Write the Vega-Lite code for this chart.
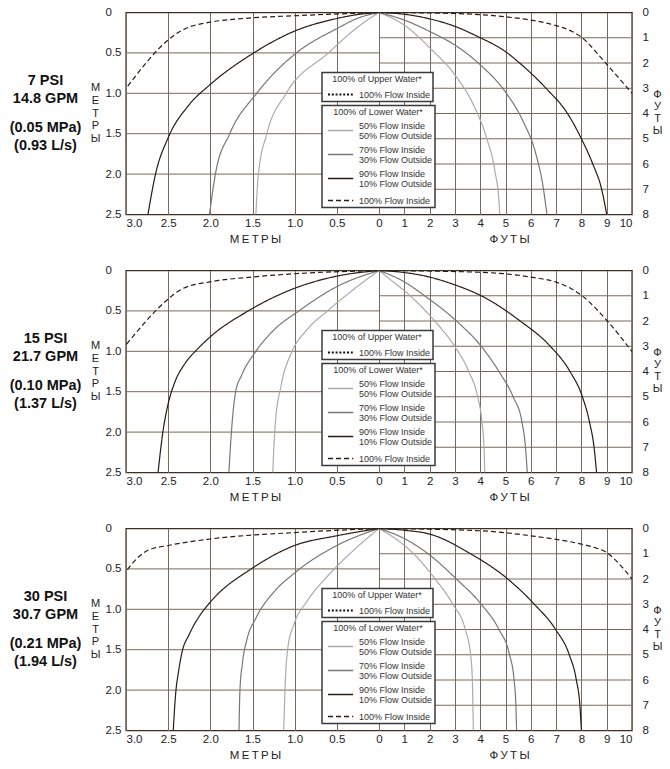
{
  "$schema": "https://vega.github.io/schema/vega-lite/v6.json",
  "padding": {"left": 8, "top": 5.5, "right": 0, "bottom": 0},
  "spacing": 17,
  "datasets": {
    "gL": [{"v": 0.5}, {"v": 1}, {"v": 1.5}, {"v": 2}],
    "gR": [{"v": 1}, {"v": 2}, {"v": 3}, {"v": 4}, {"v": 5}, {"v": 6}, {"v": 7}],
    "p1L": [
      {"s": "50/50", "h": 0, "v": 0}, {"s": "50/50", "h": 0.12, "v": 0.08}, {"s": "50/50", "h": 0.3, "v": 0.22}, {"s": "50/50", "h": 0.6, "v": 0.5}, {"s": "50/50", "h": 1.1, "v": 1.0}, {"s": "50/50", "h": 1.33, "v": 1.5}, {"s": "50/50", "h": 1.43, "v": 2.0}, {"s": "50/50", "h": 1.46, "v": 2.5},
      {"s": "70/30", "h": 0, "v": 0}, {"s": "70/30", "h": 0.25, "v": 0.07}, {"s": "70/30", "h": 0.5, "v": 0.2}, {"s": "70/30", "h": 0.98, "v": 0.5}, {"s": "70/30", "h": 1.45, "v": 1.0}, {"s": "70/30", "h": 1.77, "v": 1.5}, {"s": "70/30", "h": 1.94, "v": 2.0}, {"s": "70/30", "h": 2.01, "v": 2.5},
      {"s": "90/10", "h": 0, "v": 0}, {"s": "90/10", "h": 0.25, "v": 0.025}, {"s": "90/10", "h": 0.5, "v": 0.074}, {"s": "90/10", "h": 1.0, "v": 0.23}, {"s": "90/10", "h": 1.5, "v": 0.51}, {"s": "90/10", "h": 2.0, "v": 0.89}, {"s": "90/10", "h": 2.25, "v": 1.14}, {"s": "90/10", "h": 2.5, "v": 1.55}, {"s": "90/10", "h": 2.65, "v": 2.0}, {"s": "90/10", "h": 2.74, "v": 2.5},
      {"s": "100", "h": 0, "v": 0}, {"s": "100", "h": 1.0, "v": 0.04}, {"s": "100", "h": 1.5, "v": 0.066}, {"s": "100", "h": 2.0, "v": 0.12}, {"s": "100", "h": 2.25, "v": 0.18}, {"s": "100", "h": 2.4, "v": 0.26}, {"s": "100", "h": 2.5, "v": 0.34}, {"s": "100", "h": 3.0, "v": 0.94}
    ],
    "p1R": [
      {"s": "50/50", "h": 0, "v": 0}, {"s": "50/50", "h": 1, "v": 0.5}, {"s": "50/50", "h": 2.03, "v": 1.42}, {"s": "50/50", "h": 3, "v": 2.47}, {"s": "50/50", "h": 3.73, "v": 3.65}, {"s": "50/50", "h": 4.25, "v": 4.96}, {"s": "50/50", "h": 4.58, "v": 6.27}, {"s": "50/50", "h": 4.75, "v": 7.59}, {"s": "50/50", "h": 4.77, "v": 8.0},
      {"s": "70/30", "h": 0, "v": 0}, {"s": "70/30", "h": 1, "v": 0.3}, {"s": "70/30", "h": 2, "v": 0.75}, {"s": "70/30", "h": 3, "v": 1.29}, {"s": "70/30", "h": 4, "v": 2.07}, {"s": "70/30", "h": 5, "v": 3.15}, {"s": "70/30", "h": 5.69, "v": 4.3}, {"s": "70/30", "h": 6.2, "v": 5.6}, {"s": "70/30", "h": 6.47, "v": 6.8}, {"s": "70/30", "h": 6.64, "v": 8.0},
      {"s": "90/10", "h": 0, "v": 0}, {"s": "90/10", "h": 1, "v": 0.07}, {"s": "90/10", "h": 2, "v": 0.25}, {"s": "90/10", "h": 3, "v": 0.55}, {"s": "90/10", "h": 3.9, "v": 0.95}, {"s": "90/10", "h": 5, "v": 1.55}, {"s": "90/10", "h": 5.5, "v": 1.95}, {"s": "90/10", "h": 6.6, "v": 3.0}, {"s": "90/10", "h": 7.45, "v": 4.0}, {"s": "90/10", "h": 8.0, "v": 5.0}, {"s": "90/10", "h": 8.45, "v": 6.0}, {"s": "90/10", "h": 8.8, "v": 7.0}, {"s": "90/10", "h": 9.0, "v": 8.0},
      {"s": "100", "h": 0, "v": 0}, {"s": "100", "h": 3, "v": 0.04}, {"s": "100", "h": 5, "v": 0.17}, {"s": "100", "h": 6, "v": 0.3}, {"s": "100", "h": 7, "v": 0.52}, {"s": "100", "h": 7.65, "v": 0.76}, {"s": "100", "h": 8.0, "v": 0.98}, {"s": "100", "h": 9.0, "v": 2.05}, {"s": "100", "h": 10.0, "v": 3.2}
    ],
    "p2L": [
      {"s": "50/50", "h": 0, "v": 0}, {"s": "50/50", "h": 0.26, "v": 0.2}, {"s": "50/50", "h": 0.61, "v": 0.5}, {"s": "50/50", "h": 0.86, "v": 0.74}, {"s": "50/50", "h": 1.03, "v": 1.0}, {"s": "50/50", "h": 1.16, "v": 1.42}, {"s": "50/50", "h": 1.23, "v": 1.9}, {"s": "50/50", "h": 1.26, "v": 2.5},
      {"s": "70/30", "h": 0, "v": 0}, {"s": "70/30", "h": 0.5, "v": 0.2}, {"s": "70/30", "h": 0.95, "v": 0.5}, {"s": "70/30", "h": 1.25, "v": 0.74}, {"s": "70/30", "h": 1.46, "v": 1.0}, {"s": "70/30", "h": 1.63, "v": 1.3}, {"s": "70/30", "h": 1.7, "v": 1.5}, {"s": "70/30", "h": 1.75, "v": 2.0}, {"s": "70/30", "h": 1.78, "v": 2.5},
      {"s": "90/10", "h": 0, "v": 0}, {"s": "90/10", "h": 0.5, "v": 0.07}, {"s": "90/10", "h": 1.0, "v": 0.22}, {"s": "90/10", "h": 1.55, "v": 0.5}, {"s": "90/10", "h": 2.0, "v": 0.82}, {"s": "90/10", "h": 2.15, "v": 0.97}, {"s": "90/10", "h": 2.3, "v": 1.15}, {"s": "90/10", "h": 2.42, "v": 1.38}, {"s": "90/10", "h": 2.5, "v": 1.65}, {"s": "90/10", "h": 2.56, "v": 1.98}, {"s": "90/10", "h": 2.62, "v": 2.5},
      {"s": "100", "h": 0, "v": 0}, {"s": "100", "h": 1.0, "v": 0.04}, {"s": "100", "h": 1.5, "v": 0.08}, {"s": "100", "h": 2.0, "v": 0.14}, {"s": "100", "h": 2.32, "v": 0.22}, {"s": "100", "h": 2.44, "v": 0.3}, {"s": "100", "h": 2.53, "v": 0.38}, {"s": "100", "h": 3.0, "v": 0.92}
    ],
    "p2R": [
      {"s": "50/50", "h": 0, "v": 0}, {"s": "50/50", "h": 0.5, "v": 0.4}, {"s": "50/50", "h": 1.23, "v": 1.0}, {"s": "50/50", "h": 2.2, "v": 2.0}, {"s": "50/50", "h": 2.99, "v": 3.0}, {"s": "50/50", "h": 3.55, "v": 4.0}, {"s": "50/50", "h": 3.9, "v": 5.0}, {"s": "50/50", "h": 4.07, "v": 6.0}, {"s": "50/50", "h": 4.15, "v": 7.0}, {"s": "50/50", "h": 4.18, "v": 8.0},
      {"s": "70/30", "h": 0, "v": 0}, {"s": "70/30", "h": 1, "v": 0.45}, {"s": "70/30", "h": 1.8, "v": 1.0}, {"s": "70/30", "h": 3.06, "v": 2.0}, {"s": "70/30", "h": 4.04, "v": 3.0}, {"s": "70/30", "h": 4.74, "v": 4.0}, {"s": "70/30", "h": 5.3, "v": 5.0}, {"s": "70/30", "h": 5.65, "v": 6.0}, {"s": "70/30", "h": 5.79, "v": 7.0}, {"s": "70/30", "h": 5.86, "v": 8.0},
      {"s": "90/10", "h": 0, "v": 0}, {"s": "90/10", "h": 1, "v": 0.08}, {"s": "90/10", "h": 2, "v": 0.26}, {"s": "90/10", "h": 3, "v": 0.57}, {"s": "90/10", "h": 4.04, "v": 1.0}, {"s": "90/10", "h": 5.58, "v": 2.0}, {"s": "90/10", "h": 6.77, "v": 3.0}, {"s": "90/10", "h": 7.55, "v": 4.0}, {"s": "90/10", "h": 8.04, "v": 5.0}, {"s": "90/10", "h": 8.32, "v": 6.0}, {"s": "90/10", "h": 8.5, "v": 7.0}, {"s": "90/10", "h": 8.6, "v": 8.0},
      {"s": "100", "h": 0, "v": 0}, {"s": "100", "h": 4, "v": 0.07}, {"s": "100", "h": 6, "v": 0.26}, {"s": "100", "h": 7, "v": 0.46}, {"s": "100", "h": 7.6, "v": 0.72}, {"s": "100", "h": 8.0, "v": 0.98}, {"s": "100", "h": 9.0, "v": 1.97}, {"s": "100", "h": 10, "v": 3.21}
    ],
    "p3L": [
      {"s": "50/50", "h": 0, "v": 0}, {"s": "50/50", "h": 0.26, "v": 0.23}, {"s": "50/50", "h": 0.61, "v": 0.59}, {"s": "50/50", "h": 0.86, "v": 0.91}, {"s": "50/50", "h": 1.01, "v": 1.19}, {"s": "50/50", "h": 1.08, "v": 1.47}, {"s": "50/50", "h": 1.11, "v": 1.87}, {"s": "50/50", "h": 1.13, "v": 2.5},
      {"s": "70/30", "h": 0, "v": 0}, {"s": "70/30", "h": 0.5, "v": 0.21}, {"s": "70/30", "h": 1.0, "v": 0.55}, {"s": "70/30", "h": 1.25, "v": 0.79}, {"s": "70/30", "h": 1.46, "v": 1.11}, {"s": "70/30", "h": 1.57, "v": 1.39}, {"s": "70/30", "h": 1.62, "v": 1.67}, {"s": "70/30", "h": 1.65, "v": 2.03}, {"s": "70/30", "h": 1.66, "v": 2.5},
      {"s": "90/10", "h": 0, "v": 0}, {"s": "90/10", "h": 0.5, "v": 0.09}, {"s": "90/10", "h": 1.0, "v": 0.21}, {"s": "90/10", "h": 1.5, "v": 0.49}, {"s": "90/10", "h": 2.0, "v": 0.91}, {"s": "90/10", "h": 2.12, "v": 1.07}, {"s": "90/10", "h": 2.25, "v": 1.31}, {"s": "90/10", "h": 2.34, "v": 1.55}, {"s": "90/10", "h": 2.38, "v": 1.79}, {"s": "90/10", "h": 2.41, "v": 2.03}, {"s": "90/10", "h": 2.44, "v": 2.5},
      {"s": "100", "h": 0, "v": 0}, {"s": "100", "h": 1.0, "v": 0.05}, {"s": "100", "h": 2.0, "v": 0.13}, {"s": "100", "h": 2.5, "v": 0.21}, {"s": "100", "h": 2.74, "v": 0.27}, {"s": "100", "h": 2.87, "v": 0.37}, {"s": "100", "h": 3.0, "v": 0.53}
    ],
    "p3R": [
      {"s": "50/50", "h": 0, "v": 0}, {"s": "50/50", "h": 0.5, "v": 0.3}, {"s": "50/50", "h": 1.37, "v": 1.0}, {"s": "50/50", "h": 2.22, "v": 2.0}, {"s": "50/50", "h": 2.92, "v": 3.0}, {"s": "50/50", "h": 3.41, "v": 4.0}, {"s": "50/50", "h": 3.62, "v": 5.0}, {"s": "50/50", "h": 3.69, "v": 6.0}, {"s": "50/50", "h": 3.71, "v": 7.0}, {"s": "50/50", "h": 3.73, "v": 8.0},
      {"s": "70/30", "h": 0, "v": 0}, {"s": "70/30", "h": 1, "v": 0.4}, {"s": "70/30", "h": 1.94, "v": 1.0}, {"s": "70/30", "h": 3.06, "v": 2.0}, {"s": "70/30", "h": 4.04, "v": 3.0}, {"s": "70/30", "h": 4.74, "v": 4.0}, {"s": "70/30", "h": 5.16, "v": 5.0}, {"s": "70/30", "h": 5.34, "v": 6.0}, {"s": "70/30", "h": 5.41, "v": 7.0}, {"s": "70/30", "h": 5.44, "v": 8.0},
      {"s": "90/10", "h": 0, "v": 0}, {"s": "90/10", "h": 1, "v": 0.07}, {"s": "90/10", "h": 2, "v": 0.22}, {"s": "90/10", "h": 3.62, "v": 1.0}, {"s": "90/10", "h": 5.09, "v": 2.0}, {"s": "90/10", "h": 6.14, "v": 3.0}, {"s": "90/10", "h": 6.98, "v": 4.0}, {"s": "90/10", "h": 7.52, "v": 5.0}, {"s": "90/10", "h": 7.8, "v": 6.0}, {"s": "90/10", "h": 7.94, "v": 7.0}, {"s": "90/10", "h": 8.0, "v": 8.0},
      {"s": "100", "h": 0, "v": 0}, {"s": "100", "h": 4, "v": 0.09}, {"s": "100", "h": 6, "v": 0.29}, {"s": "100", "h": 8, "v": 0.62}, {"s": "100", "h": 8.5, "v": 0.75}, {"s": "100", "h": 9, "v": 0.95}, {"s": "100", "h": 9.5, "v": 1.41}, {"s": "100", "h": 10, "v": 2.0}
    ]
  },
  "vconcat": [
    {
      "width": 506, "height": 202,
      "layer": [
        {"data": {"name": "gL"}, "mark": {"type": "rule", "color": "#7a6858", "strokeWidth": 1},
         "encoding": {"y": {"field": "v", "type": "quantitative", "scale": {"domain": [0, 2.5], "reverse": true, "nice": false, "zero": false},
                            "axis": {"orient": "left", "labels": false, "ticks": false, "domain": false, "grid": false, "title": ["(0.05 MPa)", "(0.93 L/s)"], "titleAngle": 0, "titleX": -81, "titleY": 108, "titleBaseline": "top", "titleAlign": "center", "titleFontSize": 14.5, "titleFontWeight": "bold", "titleLineHeight": 18, "titleColor": "#111111"}},
                      "x": {"datum": 0, "type": "quantitative", "scale": {"domain": [-3, 3], "reverse": true, "nice": false, "zero": false}, "axis": null},
                      "x2": {"datum": 3}}},
        {"data": {"name": "gR"}, "mark": {"type": "rule", "color": "#7a6858", "strokeWidth": 1},
         "encoding": {"y": {"field": "v", "type": "quantitative", "scale": {"domain": [0, 8], "reverse": true, "nice": false, "zero": false}, "axis": null},
                      "x": {"datum": 0, "type": "quantitative", "scale": {"domain": [-10, 10], "nice": false, "zero": false}, "axis": null},
                      "x2": {"datum": 10}}},
        {"data": {"name": "p1L"}, "mark": {"type": "line", "interpolate": "monotone", "strokeWidth": 1.2, "clip": true},
         "encoding": {
           "x": {"field": "h", "type": "quantitative", "scale": {"domain": [-3, 3], "reverse": true, "nice": false, "zero": false},
                 "axis": {"orient": "bottom", "values": [3, 2.5, 2, 1.5, 1, 0.5], "format": ".1f", "grid": true, "labelFlush": true, "labelPadding": 3, "title": "М\u2009Е\u2009Т\u2009Р\u2009Ы", "titleX": 129, "titleY": 25, "titleBaseline": "middle", "titleAlign": "center"}},
           "y": {"field": "v", "type": "quantitative", "scale": {"domain": [0, 2.5], "reverse": true, "nice": false, "zero": false},
                 "axis": {"orient": "left", "values": [0, 0.5, 1, 1.5, 2, 2.5], "labelExpr": "datum.value == 0 ? '0' : format(datum.value, '.1f')", "labelAlign": "left", "labelPadding": 21, "grid": false, "title": ["М", "Е", "Т", "Р", "Ы"], "titleAngle": 0, "titleX": -31, "titleY": 69, "titleBaseline": "top", "titleAlign": "center", "titleLineHeight": 12.8, "titleFontSize": 11}},
           "color": {"field": "s", "type": "nominal", "scale": {"domain": ["50/50", "70/30", "90/10", "100"], "range": ["#ababab", "#787878", "#2a1c14", "#2a1c14"]},
                     "legend": {"title": "100% of Lower Water*", "orient": "none", "legendX": 196, "legendY": 93, "titlePadding": 7, "labelBaseline": {"expr": "datum.value == '100' ? 'middle' : 'bottom'"}, "labelExpr": "datum.label == '50/50' ? ['50% Flow Inside', '50% Flow Outside'] : datum.label == '70/30' ? ['70% Flow Inside', '30% Flow Outside'] : datum.label == '90/10' ? ['90% Flow Inside', '10% Flow Outside'] : '100% Flow Inside'"}},
           "strokeDash": {"field": "s", "type": "nominal", "scale": {"domain": ["50/50", "70/30", "90/10", "100"], "range": [[1, 0], [1, 0], [1, 0], [5, 3]]},
                     "legend": {"title": "100% of Lower Water*", "orient": "none", "legendX": 196, "legendY": 93, "titlePadding": 7, "labelBaseline": {"expr": "datum.value == '100' ? 'middle' : 'bottom'"}, "labelExpr": "datum.label == '50/50' ? ['50% Flow Inside', '50% Flow Outside'] : datum.label == '70/30' ? ['70% Flow Inside', '30% Flow Outside'] : datum.label == '90/10' ? ['90% Flow Inside', '10% Flow Outside'] : '100% Flow Inside'"}},
           "order": {"field": "v", "type": "quantitative"}
         }},
        {"data": {"name": "p1R"}, "mark": {"type": "line", "interpolate": "monotone", "strokeWidth": 1.2, "clip": true},
         "encoding": {
           "x": {"field": "h", "type": "quantitative", "scale": {"domain": [-10, 10], "nice": false, "zero": false},
                 "axis": {"orient": "bottom", "values": [0, 1, 2, 3, 4, 5, 6, 7, 8, 9, 10], "format": "d", "grid": true, "labelFlush": true, "labelPadding": 3, "title": "Ф\u2009У\u2009Т\u2009Ы", "titleX": 383, "titleY": 25, "titleBaseline": "middle", "titleAlign": "center"}},
           "y": {"field": "v", "type": "quantitative", "scale": {"domain": [0, 8], "reverse": true, "nice": false, "zero": false},
                 "axis": {"orient": "right", "values": [0, 1, 2, 3, 4, 5, 6, 7, 8], "format": "d", "labelPadding": 10, "grid": false, "title": ["Ф", "У", "Т", "Ы"], "titleAngle": 0, "titleX": 25, "titleY": 76, "titleBaseline": "top", "titleAlign": "center", "titleLineHeight": 12, "titleFontSize": 11}},
           "color": {"field": "s", "type": "nominal", "scale": {"domain": ["50/50", "70/30", "90/10", "100"], "range": ["#ababab", "#787878", "#2a1c14", "#2a1c14"]},
                     "legend": {"title": "100% of Lower Water*", "orient": "none", "legendX": 196, "legendY": 93, "titlePadding": 7, "labelBaseline": {"expr": "datum.value == '100' ? 'middle' : 'bottom'"}, "labelExpr": "datum.label == '50/50' ? ['50% Flow Inside', '50% Flow Outside'] : datum.label == '70/30' ? ['70% Flow Inside', '30% Flow Outside'] : datum.label == '90/10' ? ['90% Flow Inside', '10% Flow Outside'] : '100% Flow Inside'"}},
           "strokeDash": {"field": "s", "type": "nominal", "scale": {"domain": ["50/50", "70/30", "90/10", "100"], "range": [[1, 0], [1, 0], [1, 0], [5, 3]]},
                     "legend": {"title": "100% of Lower Water*", "orient": "none", "legendX": 196, "legendY": 93, "titlePadding": 7, "labelBaseline": {"expr": "datum.value == '100' ? 'middle' : 'bottom'"}, "labelExpr": "datum.label == '50/50' ? ['50% Flow Inside', '50% Flow Outside'] : datum.label == '70/30' ? ['70% Flow Inside', '30% Flow Outside'] : datum.label == '90/10' ? ['90% Flow Inside', '10% Flow Outside'] : '100% Flow Inside'"}},
           "order": {"field": "v", "type": "quantitative"}
         }},
        {"data": {"values": []}, "mark": {"type": "line", "color": "#111111"},
         "encoding": {
           "x": {"field": "h", "type": "quantitative", "scale": {"domain": [0, 1]}, "axis": null},
           "y": {"field": "v", "type": "quantitative", "scale": {"domain": [0, 1]},
                 "axis": {"orient": "left", "labels": false, "ticks": false, "domain": false, "grid": false, "title": ["7 PSI", "14.8 GPM"], "titleAngle": 0, "titleX": -81, "titleY": 61, "titleBaseline": "top", "titleAlign": "center", "titleFontSize": 14.5, "titleFontWeight": "bold", "titleLineHeight": 18, "titleColor": "#111111"}},
           "opacity": {"field": "s", "type": "ordinal", "scale": {"domain": ["100% Flow Inside"], "range": [1]},
                       "legend": {"title": "100% of Upper Water*", "orient": "none", "legendX": 196, "legendY": 60, "symbolDash": [2, 1.8], "symbolStrokeColor": "#111111", "symbolStrokeWidth": 2}}
         }}
      ],
      "resolve": {"scale": {"x": "independent", "y": "independent"}, "axis": {"x": "independent", "y": "independent"}}
    },
    {
      "width": 506, "height": 202,
      "layer": [
        {"data": {"name": "gL"}, "mark": {"type": "rule", "color": "#7a6858", "strokeWidth": 1},
         "encoding": {"y": {"field": "v", "type": "quantitative", "scale": {"domain": [0, 2.5], "reverse": true, "nice": false, "zero": false},
                            "axis": {"orient": "left", "labels": false, "ticks": false, "domain": false, "grid": false, "title": ["(0.10 MPa)", "(1.37 L/s)"], "titleAngle": 0, "titleX": -81, "titleY": 108, "titleBaseline": "top", "titleAlign": "center", "titleFontSize": 14.5, "titleFontWeight": "bold", "titleLineHeight": 18, "titleColor": "#111111"}},
                      "x": {"datum": 0, "type": "quantitative", "scale": {"domain": [-3, 3], "reverse": true, "nice": false, "zero": false}, "axis": null},
                      "x2": {"datum": 3}}},
        {"data": {"name": "gR"}, "mark": {"type": "rule", "color": "#7a6858", "strokeWidth": 1},
         "encoding": {"y": {"field": "v", "type": "quantitative", "scale": {"domain": [0, 8], "reverse": true, "nice": false, "zero": false}, "axis": null},
                      "x": {"datum": 0, "type": "quantitative", "scale": {"domain": [-10, 10], "nice": false, "zero": false}, "axis": null},
                      "x2": {"datum": 10}}},
        {"data": {"name": "p2L"}, "mark": {"type": "line", "interpolate": "monotone", "strokeWidth": 1.2, "clip": true},
         "encoding": {
           "x": {"field": "h", "type": "quantitative", "scale": {"domain": [-3, 3], "reverse": true, "nice": false, "zero": false},
                 "axis": {"orient": "bottom", "values": [3, 2.5, 2, 1.5, 1, 0.5], "format": ".1f", "grid": true, "labelFlush": true, "labelPadding": 3, "title": "М\u2009Е\u2009Т\u2009Р\u2009Ы", "titleX": 129, "titleY": 25, "titleBaseline": "middle", "titleAlign": "center"}},
           "y": {"field": "v", "type": "quantitative", "scale": {"domain": [0, 2.5], "reverse": true, "nice": false, "zero": false},
                 "axis": {"orient": "left", "values": [0, 0.5, 1, 1.5, 2, 2.5], "labelExpr": "datum.value == 0 ? '0' : format(datum.value, '.1f')", "labelAlign": "left", "labelPadding": 21, "grid": false, "title": ["М", "Е", "Т", "Р", "Ы"], "titleAngle": 0, "titleX": -31, "titleY": 69, "titleBaseline": "top", "titleAlign": "center", "titleLineHeight": 12.8, "titleFontSize": 11}},
           "color": {"field": "s", "type": "nominal", "scale": {"domain": ["50/50", "70/30", "90/10", "100"], "range": ["#ababab", "#787878", "#2a1c14", "#2a1c14"]},
                     "legend": {"title": "100% of Lower Water*", "orient": "none", "legendX": 196, "legendY": 93, "titlePadding": 7, "labelBaseline": {"expr": "datum.value == '100' ? 'middle' : 'bottom'"}, "labelExpr": "datum.label == '50/50' ? ['50% Flow Inside', '50% Flow Outside'] : datum.label == '70/30' ? ['70% Flow Inside', '30% Flow Outside'] : datum.label == '90/10' ? ['90% Flow Inside', '10% Flow Outside'] : '100% Flow Inside'"}},
           "strokeDash": {"field": "s", "type": "nominal", "scale": {"domain": ["50/50", "70/30", "90/10", "100"], "range": [[1, 0], [1, 0], [1, 0], [5, 3]]},
                     "legend": {"title": "100% of Lower Water*", "orient": "none", "legendX": 196, "legendY": 93, "titlePadding": 7, "labelBaseline": {"expr": "datum.value == '100' ? 'middle' : 'bottom'"}, "labelExpr": "datum.label == '50/50' ? ['50% Flow Inside', '50% Flow Outside'] : datum.label == '70/30' ? ['70% Flow Inside', '30% Flow Outside'] : datum.label == '90/10' ? ['90% Flow Inside', '10% Flow Outside'] : '100% Flow Inside'"}},
           "order": {"field": "v", "type": "quantitative"}
         }},
        {"data": {"name": "p2R"}, "mark": {"type": "line", "interpolate": "monotone", "strokeWidth": 1.2, "clip": true},
         "encoding": {
           "x": {"field": "h", "type": "quantitative", "scale": {"domain": [-10, 10], "nice": false, "zero": false},
                 "axis": {"orient": "bottom", "values": [0, 1, 2, 3, 4, 5, 6, 7, 8, 9, 10], "format": "d", "grid": true, "labelFlush": true, "labelPadding": 3, "title": "Ф\u2009У\u2009Т\u2009Ы", "titleX": 383, "titleY": 25, "titleBaseline": "middle", "titleAlign": "center"}},
           "y": {"field": "v", "type": "quantitative", "scale": {"domain": [0, 8], "reverse": true, "nice": false, "zero": false},
                 "axis": {"orient": "right", "values": [0, 1, 2, 3, 4, 5, 6, 7, 8], "format": "d", "labelPadding": 10, "grid": false, "title": ["Ф", "У", "Т", "Ы"], "titleAngle": 0, "titleX": 25, "titleY": 76, "titleBaseline": "top", "titleAlign": "center", "titleLineHeight": 12, "titleFontSize": 11}},
           "color": {"field": "s", "type": "nominal", "scale": {"domain": ["50/50", "70/30", "90/10", "100"], "range": ["#ababab", "#787878", "#2a1c14", "#2a1c14"]},
                     "legend": {"title": "100% of Lower Water*", "orient": "none", "legendX": 196, "legendY": 93, "titlePadding": 7, "labelBaseline": {"expr": "datum.value == '100' ? 'middle' : 'bottom'"}, "labelExpr": "datum.label == '50/50' ? ['50% Flow Inside', '50% Flow Outside'] : datum.label == '70/30' ? ['70% Flow Inside', '30% Flow Outside'] : datum.label == '90/10' ? ['90% Flow Inside', '10% Flow Outside'] : '100% Flow Inside'"}},
           "strokeDash": {"field": "s", "type": "nominal", "scale": {"domain": ["50/50", "70/30", "90/10", "100"], "range": [[1, 0], [1, 0], [1, 0], [5, 3]]},
                     "legend": {"title": "100% of Lower Water*", "orient": "none", "legendX": 196, "legendY": 93, "titlePadding": 7, "labelBaseline": {"expr": "datum.value == '100' ? 'middle' : 'bottom'"}, "labelExpr": "datum.label == '50/50' ? ['50% Flow Inside', '50% Flow Outside'] : datum.label == '70/30' ? ['70% Flow Inside', '30% Flow Outside'] : datum.label == '90/10' ? ['90% Flow Inside', '10% Flow Outside'] : '100% Flow Inside'"}},
           "order": {"field": "v", "type": "quantitative"}
         }},
        {"data": {"values": []}, "mark": {"type": "line", "color": "#111111"},
         "encoding": {
           "x": {"field": "h", "type": "quantitative", "scale": {"domain": [0, 1]}, "axis": null},
           "y": {"field": "v", "type": "quantitative", "scale": {"domain": [0, 1]},
                 "axis": {"orient": "left", "labels": false, "ticks": false, "domain": false, "grid": false, "title": ["15 PSI", "21.7 GPM"], "titleAngle": 0, "titleX": -81, "titleY": 61, "titleBaseline": "top", "titleAlign": "center", "titleFontSize": 14.5, "titleFontWeight": "bold", "titleLineHeight": 18, "titleColor": "#111111"}},
           "opacity": {"field": "s", "type": "ordinal", "scale": {"domain": ["100% Flow Inside"], "range": [1]},
                       "legend": {"title": "100% of Upper Water*", "orient": "none", "legendX": 196, "legendY": 60, "symbolDash": [2, 1.8], "symbolStrokeColor": "#111111", "symbolStrokeWidth": 2}}
         }}
      ],
      "resolve": {"scale": {"x": "independent", "y": "independent"}, "axis": {"x": "independent", "y": "independent"}}
    },
    {
      "width": 506, "height": 202,
      "layer": [
        {"data": {"name": "gL"}, "mark": {"type": "rule", "color": "#7a6858", "strokeWidth": 1},
         "encoding": {"y": {"field": "v", "type": "quantitative", "scale": {"domain": [0, 2.5], "reverse": true, "nice": false, "zero": false},
                            "axis": {"orient": "left", "labels": false, "ticks": false, "domain": false, "grid": false, "title": ["(0.21 MPa)", "(1.94 L/s)"], "titleAngle": 0, "titleX": -81, "titleY": 108, "titleBaseline": "top", "titleAlign": "center", "titleFontSize": 14.5, "titleFontWeight": "bold", "titleLineHeight": 18, "titleColor": "#111111"}},
                      "x": {"datum": 0, "type": "quantitative", "scale": {"domain": [-3, 3], "reverse": true, "nice": false, "zero": false}, "axis": null},
                      "x2": {"datum": 3}}},
        {"data": {"name": "gR"}, "mark": {"type": "rule", "color": "#7a6858", "strokeWidth": 1},
         "encoding": {"y": {"field": "v", "type": "quantitative", "scale": {"domain": [0, 8], "reverse": true, "nice": false, "zero": false}, "axis": null},
                      "x": {"datum": 0, "type": "quantitative", "scale": {"domain": [-10, 10], "nice": false, "zero": false}, "axis": null},
                      "x2": {"datum": 10}}},
        {"data": {"name": "p3L"}, "mark": {"type": "line", "interpolate": "monotone", "strokeWidth": 1.2, "clip": true},
         "encoding": {
           "x": {"field": "h", "type": "quantitative", "scale": {"domain": [-3, 3], "reverse": true, "nice": false, "zero": false},
                 "axis": {"orient": "bottom", "values": [3, 2.5, 2, 1.5, 1, 0.5], "format": ".1f", "grid": true, "labelFlush": true, "labelPadding": 3, "title": "М\u2009Е\u2009Т\u2009Р\u2009Ы", "titleX": 129, "titleY": 25, "titleBaseline": "middle", "titleAlign": "center"}},
           "y": {"field": "v", "type": "quantitative", "scale": {"domain": [0, 2.5], "reverse": true, "nice": false, "zero": false},
                 "axis": {"orient": "left", "values": [0, 0.5, 1, 1.5, 2, 2.5], "labelExpr": "datum.value == 0 ? '0' : format(datum.value, '.1f')", "labelAlign": "left", "labelPadding": 21, "grid": false, "title": ["М", "Е", "Т", "Р", "Ы"], "titleAngle": 0, "titleX": -31, "titleY": 69, "titleBaseline": "top", "titleAlign": "center", "titleLineHeight": 12.8, "titleFontSize": 11}},
           "color": {"field": "s", "type": "nominal", "scale": {"domain": ["50/50", "70/30", "90/10", "100"], "range": ["#ababab", "#787878", "#2a1c14", "#2a1c14"]},
                     "legend": {"title": "100% of Lower Water*", "orient": "none", "legendX": 196, "legendY": 93, "titlePadding": 7, "labelBaseline": {"expr": "datum.value == '100' ? 'middle' : 'bottom'"}, "labelExpr": "datum.label == '50/50' ? ['50% Flow Inside', '50% Flow Outside'] : datum.label == '70/30' ? ['70% Flow Inside', '30% Flow Outside'] : datum.label == '90/10' ? ['90% Flow Inside', '10% Flow Outside'] : '100% Flow Inside'"}},
           "strokeDash": {"field": "s", "type": "nominal", "scale": {"domain": ["50/50", "70/30", "90/10", "100"], "range": [[1, 0], [1, 0], [1, 0], [5, 3]]},
                     "legend": {"title": "100% of Lower Water*", "orient": "none", "legendX": 196, "legendY": 93, "titlePadding": 7, "labelBaseline": {"expr": "datum.value == '100' ? 'middle' : 'bottom'"}, "labelExpr": "datum.label == '50/50' ? ['50% Flow Inside', '50% Flow Outside'] : datum.label == '70/30' ? ['70% Flow Inside', '30% Flow Outside'] : datum.label == '90/10' ? ['90% Flow Inside', '10% Flow Outside'] : '100% Flow Inside'"}},
           "order": {"field": "v", "type": "quantitative"}
         }},
        {"data": {"name": "p3R"}, "mark": {"type": "line", "interpolate": "monotone", "strokeWidth": 1.2, "clip": true},
         "encoding": {
           "x": {"field": "h", "type": "quantitative", "scale": {"domain": [-10, 10], "nice": false, "zero": false},
                 "axis": {"orient": "bottom", "values": [0, 1, 2, 3, 4, 5, 6, 7, 8, 9, 10], "format": "d", "grid": true, "labelFlush": true, "labelPadding": 3, "title": "Ф\u2009У\u2009Т\u2009Ы", "titleX": 383, "titleY": 25, "titleBaseline": "middle", "titleAlign": "center"}},
           "y": {"field": "v", "type": "quantitative", "scale": {"domain": [0, 8], "reverse": true, "nice": false, "zero": false},
                 "axis": {"orient": "right", "values": [0, 1, 2, 3, 4, 5, 6, 7, 8], "format": "d", "labelPadding": 10, "grid": false, "title": ["Ф", "У", "Т", "Ы"], "titleAngle": 0, "titleX": 25, "titleY": 76, "titleBaseline": "top", "titleAlign": "center", "titleLineHeight": 12, "titleFontSize": 11}},
           "color": {"field": "s", "type": "nominal", "scale": {"domain": ["50/50", "70/30", "90/10", "100"], "range": ["#ababab", "#787878", "#2a1c14", "#2a1c14"]},
                     "legend": {"title": "100% of Lower Water*", "orient": "none", "legendX": 196, "legendY": 93, "titlePadding": 7, "labelBaseline": {"expr": "datum.value == '100' ? 'middle' : 'bottom'"}, "labelExpr": "datum.label == '50/50' ? ['50% Flow Inside', '50% Flow Outside'] : datum.label == '70/30' ? ['70% Flow Inside', '30% Flow Outside'] : datum.label == '90/10' ? ['90% Flow Inside', '10% Flow Outside'] : '100% Flow Inside'"}},
           "strokeDash": {"field": "s", "type": "nominal", "scale": {"domain": ["50/50", "70/30", "90/10", "100"], "range": [[1, 0], [1, 0], [1, 0], [5, 3]]},
                     "legend": {"title": "100% of Lower Water*", "orient": "none", "legendX": 196, "legendY": 93, "titlePadding": 7, "labelBaseline": {"expr": "datum.value == '100' ? 'middle' : 'bottom'"}, "labelExpr": "datum.label == '50/50' ? ['50% Flow Inside', '50% Flow Outside'] : datum.label == '70/30' ? ['70% Flow Inside', '30% Flow Outside'] : datum.label == '90/10' ? ['90% Flow Inside', '10% Flow Outside'] : '100% Flow Inside'"}},
           "order": {"field": "v", "type": "quantitative"}
         }},
        {"data": {"values": []}, "mark": {"type": "line", "color": "#111111"},
         "encoding": {
           "x": {"field": "h", "type": "quantitative", "scale": {"domain": [0, 1]}, "axis": null},
           "y": {"field": "v", "type": "quantitative", "scale": {"domain": [0, 1]},
                 "axis": {"orient": "left", "labels": false, "ticks": false, "domain": false, "grid": false, "title": ["30 PSI", "30.7 GPM"], "titleAngle": 0, "titleX": -81, "titleY": 61, "titleBaseline": "top", "titleAlign": "center", "titleFontSize": 14.5, "titleFontWeight": "bold", "titleLineHeight": 18, "titleColor": "#111111"}},
           "opacity": {"field": "s", "type": "ordinal", "scale": {"domain": ["100% Flow Inside"], "range": [1]},
                       "legend": {"title": "100% of Upper Water*", "orient": "none", "legendX": 196, "legendY": 60, "symbolDash": [2, 1.8], "symbolStrokeColor": "#111111", "symbolStrokeWidth": 2}}
         }}
      ],
      "resolve": {"scale": {"x": "independent", "y": "independent"}, "axis": {"x": "independent", "y": "independent"}}
    }
  ],
  "resolve": {"scale": {"color": "independent", "strokeDash": "independent", "opacity": "independent"}},
  "config": {
    "font": "Liberation Sans",
    "view": {"stroke": "#3f2e22", "strokeWidth": 1.4},
    "axis": {"labelFont": "Liberation Sans", "titleFont": "Liberation Sans", "labelFontSize": 11.5, "titleFontSize": 11.5, "titleFontWeight": "normal", "labelColor": "#222222", "titleColor": "#222222", "ticks": false, "domain": false, "gridColor": "#7a6858", "gridOpacity": 1, "gridWidth": 1},
    "legend": {"labelFont": "Liberation Sans", "titleFont": "Liberation Sans", "labelFontSize": 9, "titleFontSize": 9, "titleFontWeight": "normal", "labelColor": "#333333", "titleColor": "#333333", "strokeColor": "#3a3a3a", "strokeWidth": 1.5, "fillColor": "#ffffff", "padding": 2, "titlePadding": 4, "labelOffset": 18, "rowPadding": 5, "symbolOffset": 3, "symbolType": "M-1,0H3.2", "symbolSize": 144, "symbolStrokeWidth": 1.5, "titleAnchor": "middle", "titleAlign": "center", "labelLimit": 200},
    "style": {"guide-label": {"lineHeight": 10}}
  }
}
